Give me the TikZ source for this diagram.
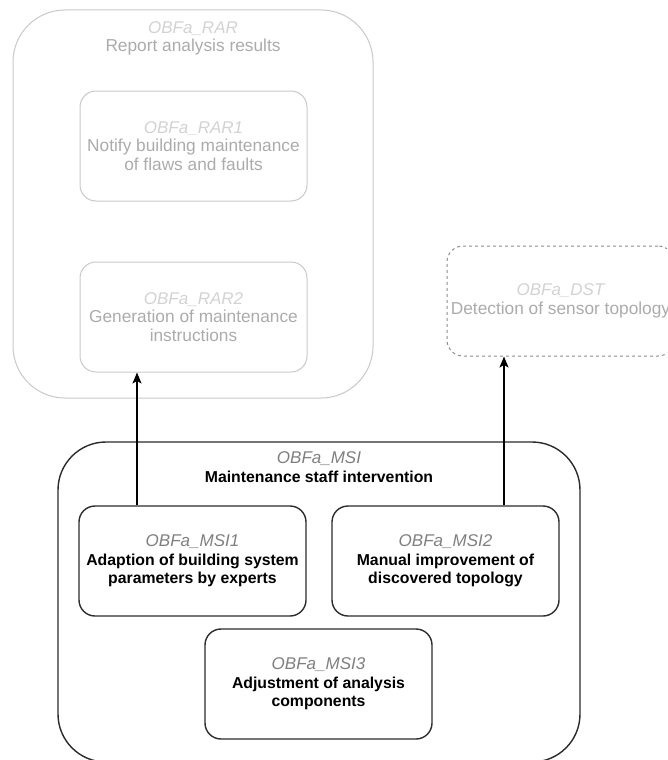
\documentclass[tikz,border=0pt]{standalone}
\usepackage{fontspec}
\setmainfont{Liberation Sans}
\usetikzlibrary{arrows.meta,calc}

\definecolor{fadeline}{HTML}{C8C8C8}
\definecolor{fadetext}{HTML}{ABABAB}
\definecolor{fadeid}{HTML}{D2D2D2}
\definecolor{darkline}{HTML}{2B2B2B}
\definecolor{idgray}{HTML}{7F7F7F}
\definecolor{dashline}{HTML}{8C8C8C}

\tikzset{
  boxbase/.style={rectangle, align=center, inner sep=0pt,
    minimum width=227pt, minimum height=110pt, rounded corners=16pt},
  fadebox/.style={boxbase, draw=fadeline, line width=1pt, text=fadetext},
  boldtext/.style={font=\fontsize{15.8}{18.5}\selectfont\bfseries},
  solidbox/.style={boxbase, draw=darkline, line width=1.4pt, text=black, boldtext},
  dashbox/.style={boxbase, draw=dashline, line width=1pt, dashed, text=fadetext},
  fadegroup/.style={rectangle, draw=fadeline, line width=1pt, inner sep=0pt,
    rounded corners=52pt},
  solidgroup/.style={rectangle, draw=darkline, line width=1.4pt, inner sep=0pt,
    rounded corners=48pt},
  grouptitle/.style={align=center, inner sep=0pt},
  link/.style={draw=black, line width=1.3pt,
    -{Stealth[length=11pt,width=9pt,inset=2.5pt]}},
}

\newcommand{\fadeid}[1]{{\fontsize{17}{18.5}\selectfont\mdseries\itshape\color{fadeid}#1}}
\newcommand{\grayid}[1]{{\fontsize{17}{18.5}\selectfont\mdseries\itshape\color{idgray}#1}}

\begin{document}
\begin{tikzpicture}[x=1pt, y=-1pt, font=\fontsize{17.3}{18.5}\selectfont]
  \useasboundingbox (0,0) rectangle (667,760);
  \clip (0,0) rectangle (667,760);

  % Report analysis results (faded group)
  \node[fadegroup, minimum width=360pt, minimum height=388pt] (rar) at (193,204) {};
  \node[grouptitle, text=fadetext] (rartitle) at (193,38.5)
    {\fadeid{OBFa\_RAR}\\Report analysis results};
  \node[fadebox] (rar1) at (193.5,146)
    {\fadeid{OBFa\_RAR1}\\Notify building maintenance\\of flaws and faults};
  \node[fadebox] (rar2) at (193.5,317)
    {\fadeid{OBFa\_RAR2}\\Generation of maintenance\\instructions};

  % Detection of sensor topology (dashed)
  \node[dashbox] (dst) at (560.5,301)
    {\fadeid{OBFa\_DST}\\Detection of sensor topology};

  % Maintenance staff intervention (group)
  \node[solidgroup, minimum width=522pt, minimum height=320pt] (msi) at (319,602) {};
  \node[grouptitle, text=black, boldtext] (msititle) at (319,467)
    {\grayid{OBFa\_MSI}\\Maintenance staff intervention};
  \node[solidbox] (msi1) at (192.5,561)
    {\grayid{OBFa\_MSI1}\\Adaption of building system\\parameters by experts};
  \node[solidbox] (msi2) at (445.5,561)
    {\grayid{OBFa\_MSI2}\\Manual improvement of\\discovered topology};
  \node[solidbox] (msi3) at (318.5,684)
    {\grayid{OBFa\_MSI3}\\Adjustment of analysis\\components};

  % Connectors
  \draw[link] ($(msi1.north)+(-55.5,0)$) coordinate (s1) -- (s1 |- rar2.south);
  \draw[link] ($(msi2.north)+(58.5,0)$) coordinate (s2) -- (s2 |- dst.south);
\end{tikzpicture}
\end{document}
